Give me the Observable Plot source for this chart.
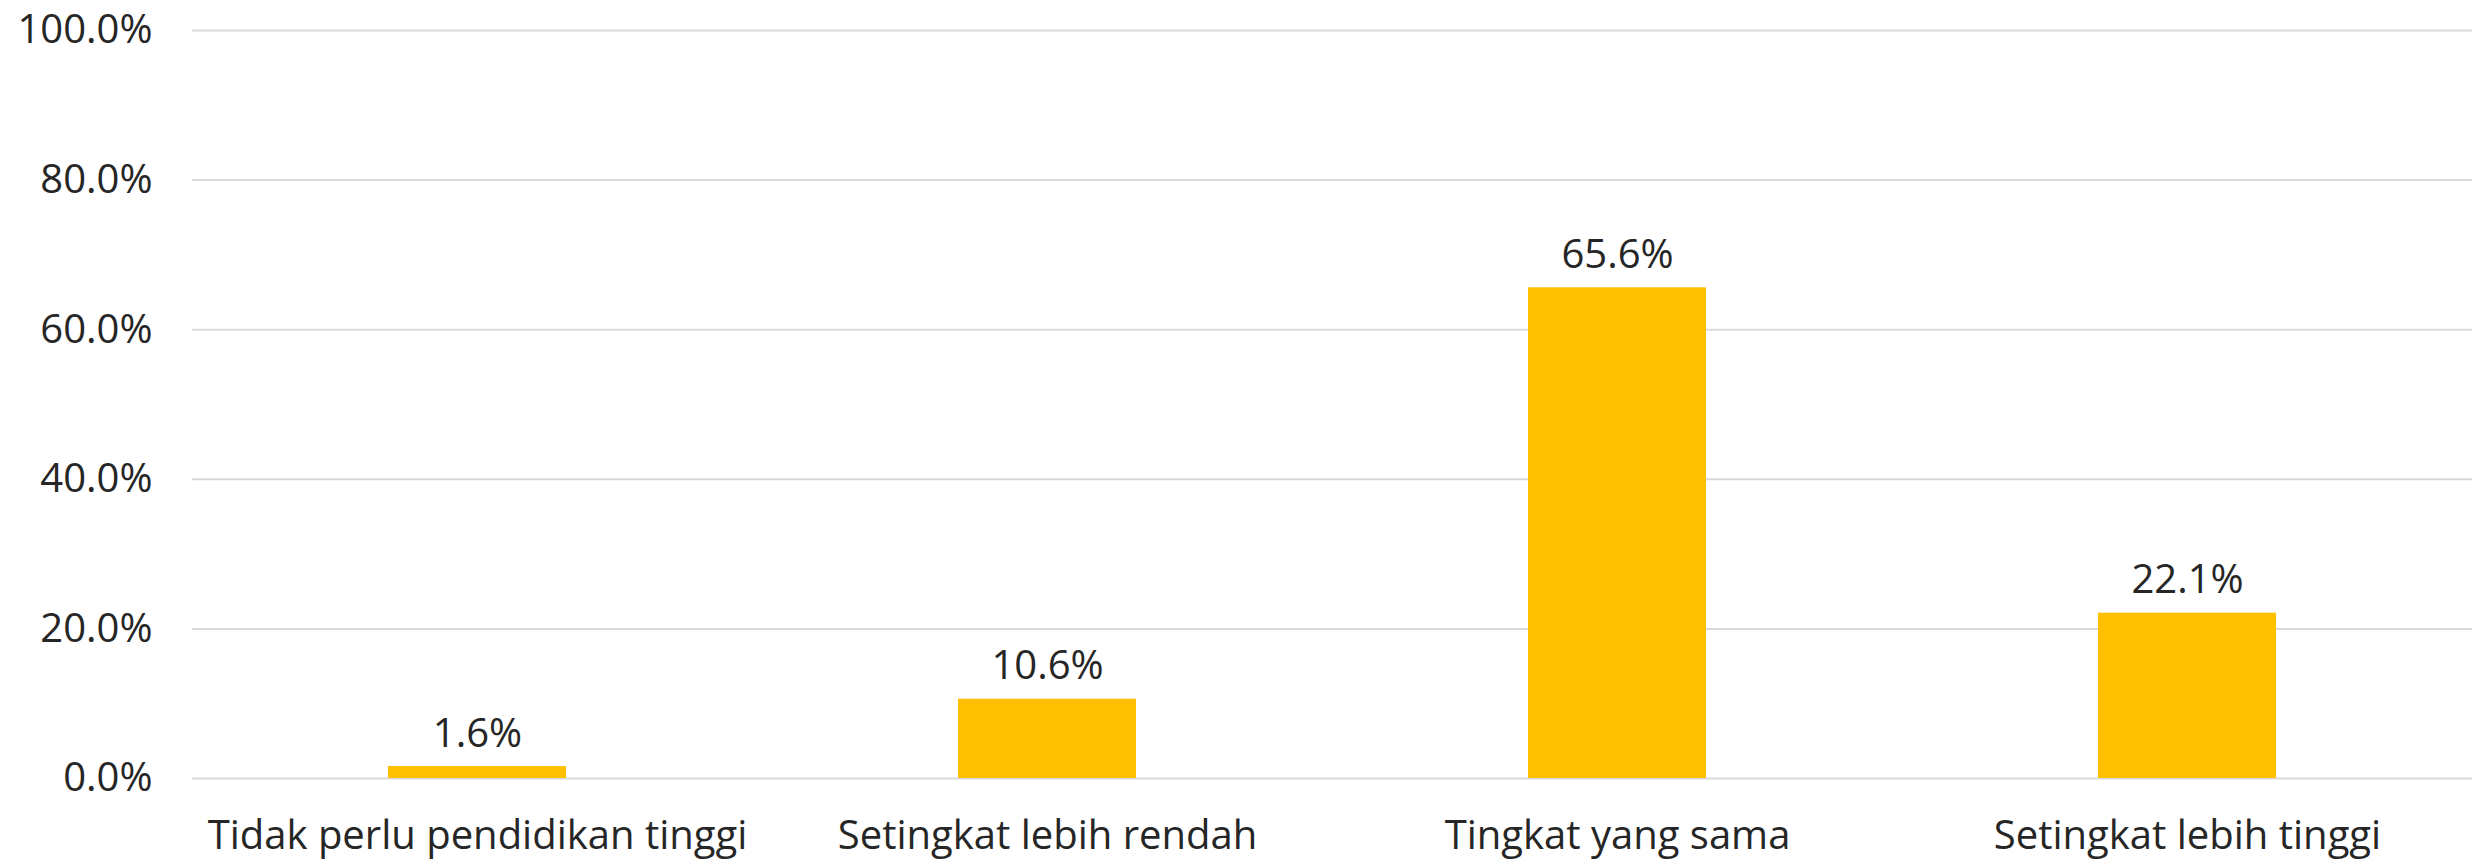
<!DOCTYPE html>
<html>
<head>
<meta charset="utf-8">
<script src="https://cdn.jsdelivr.net/npm/d3@7"></script>
<script src="https://cdn.jsdelivr.net/npm/@observablehq/plot@0.6"></script>
<style>
  html, body { margin: 0; padding: 0; background: #fff; }
  #chart svg { display: block; }
</style>
</head>
<body>
<div id="chart"></div>
<script>
const categories = ["Tidak perlu pendidikan tinggi", "Setingkat lebih rendah", "Tingkat yang sama", "Setingkat lebih tinggi"];
const values = [1.6, 10.6, 65.6, 22.1];
const yTicks = [0, 20, 40, 60, 80, 100];

const data = categories.map((c, i) => ({category: c, value: values[i]}));
const fmt = d => d.toFixed(1) + "%";

const chart = Plot.plot({
  width: 2474,
  height: 862,
  marginTop: 30,
  marginBottom: 84,
  marginLeft: 192,
  marginRight: 2,
  style: {fontFamily: "'Open Sans', sans-serif", fontSize: "40px", color: "#262626", background: "#fff"},
  x: {domain: categories, paddingInner: 0.687, paddingOuter: 0.3435, label: null},
  y: {domain: [0, 100], label: null},
  marks: [
    Plot.gridY(yTicks, {stroke: "#d9d9d9", strokeOpacity: 1, strokeWidth: 2}),
    Plot.axisY({ticks: yTicks, tickFormat: fmt, tickSize: 0, tickPadding: 40, label: null, fontSize: 40, fill: "#262626"}),
    Plot.axisX({tickSize: 0, tickPadding: 42, label: null, fontSize: 40, fill: "#262626"}),
    Plot.barY(data, {x: "category", y: "value", fill: "#FFC000"}),
    Plot.text(data, {x: "category", y: "value", text: d => fmt(d.value), lineAnchor: "bottom", dy: -20, fontSize: 40, fill: "#262626"})
  ]
});
document.getElementById("chart").appendChild(chart);
</script>
</body>
</html>
